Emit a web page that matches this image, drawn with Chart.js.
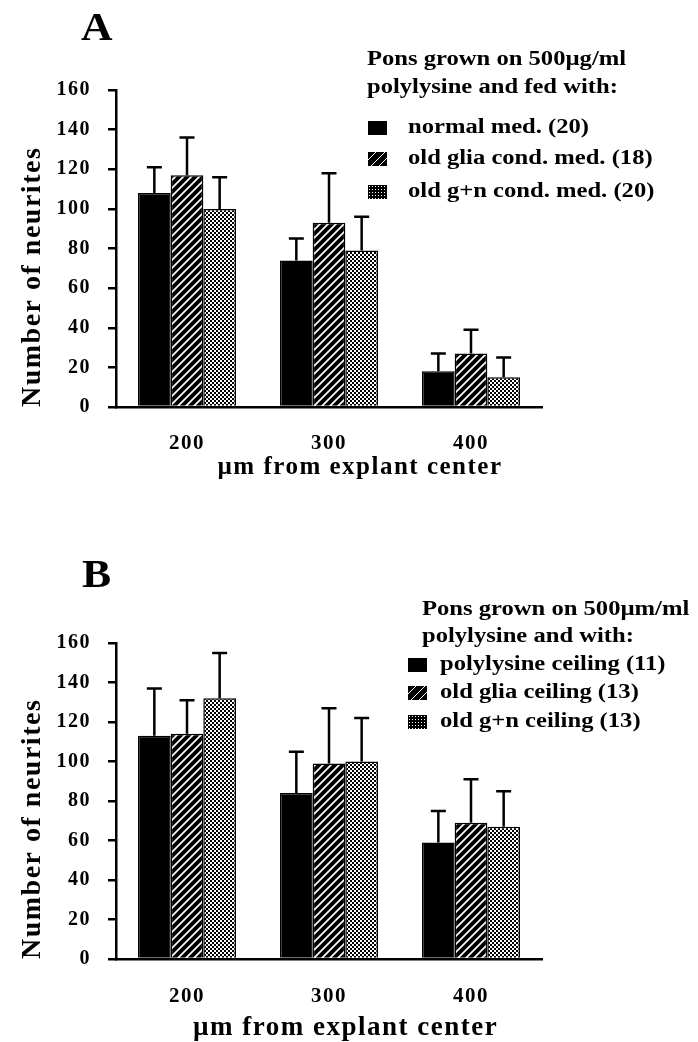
<!DOCTYPE html>
<html>
<head>
<meta charset="utf-8">
<script src="https://cdn.jsdelivr.net/npm/chart.js@4.4.1/dist/chart.umd.min.js"></script>
<style>
    body { margin: 0; background: #fff; }
    #page { position: relative; width: 698px; height: 1042px; overflow: hidden; font-family: 'Liberation Serif', 'Times New Roman', serif; font-weight: bold; color: #000; }
    .panel { position: absolute; left: 0; }
    .letter { position: absolute; font-size: 39px; line-height: 39px; transform: scaleX(1.12); transform-origin: left top; }
    .leg { position: absolute; font-size: 20px; line-height: 20px; white-space: nowrap; transform: scaleX(1.23); transform-origin: left top; }
    .box { position: absolute; width: 19px; height: 14px; }
    .solid { background: #000; }
    .hatch { background: repeating-linear-gradient(-45deg, #000 0 5px, #fff 5px 6px); }
    .dots { background-color: #000; background-image: radial-gradient(#fff 30%, transparent 45%); background-size: 3px 3px; }
</style>
</head>
<body>
<div id="page">
    <div class="panel" style="top:0"><canvas id="chartA" width="698" height="500"></canvas></div>
    <div class="panel" style="top:520px"><canvas id="chartB" width="698" height="522"></canvas></div>

    <div class="letter" style="left:81px; top:7px">A</div>
    <div class="leg" style="left:367px; top:48px">Pons grown on 500µg/ml</div>
    <div class="leg" style="left:367px; top:76px">polylysine and fed with:</div>
    <div class="box solid" style="left:368px; top:121px"></div>
    <div class="leg" style="left:408px; top:116px">normal med. (20)</div>
    <div class="box hatch" style="left:368px; top:152px"></div>
    <div class="leg" style="left:408px; top:147px">old glia cond. med. (18)</div>
    <div class="box dots" style="left:368px; top:185px"></div>
    <div class="leg" style="left:408px; top:180px">old g+n cond. med. (20)</div>

    <div class="letter" style="left:82px; top:554px">B</div>
    <div class="leg" style="left:422px; top:598px">Pons grown on 500µm/ml</div>
    <div class="leg" style="left:422px; top:625px">polylysine and with:</div>
    <div class="box solid" style="left:408px; top:658px"></div>
    <div class="leg" style="left:440px; top:653px">polylysine ceiling (11)</div>
    <div class="box hatch" style="left:408px; top:686px"></div>
    <div class="leg" style="left:440px; top:681px">old glia ceiling (13)</div>
    <div class="box dots" style="left:408px; top:715px"></div>
    <div class="leg" style="left:440px; top:710px">old g+n ceiling (13)</div>
</div>

<script>
const distances = ['200', '300', '400'];

// panel A: medium
const normalMed = [108, 74, 18];
const normalMedErr = [121, 85, 27];
const gliaMed = [117, 93, 27];
const gliaMedErr = [136, 118, 39];
const gnMed = [100, 79, 15];
const gnMedErr = [116, 96, 25];

// panel B: ceiling
const polyCeiling = [113, 84, 59];
const polyCeilingErr = [137, 105, 75];
const gliaCeiling = [114, 99, 69];
const gliaCeilingErr = [131, 127, 91];
const gnCeiling = [132, 100, 67];
const gnCeilingErr = [155, 122, 85];

const yTicks = [0, 20, 40, 60, 80, 100, 120, 140, 160];

Chart.defaults.font.family = "'Liberation Serif', 'Times New Roman', serif";
Chart.defaults.font.weight = 'bold';
Chart.defaults.color = '#000';

function hatchPattern() {
    let c = document.createElement('canvas');
    c.width = 8;
    c.height = 8;
    let g = c.getContext('2d');
    g.fillStyle = '#000';
    g.fillRect(0, 0, 8, 8);
    g.strokeStyle = '#fff';
    g.lineWidth = 1.7;
    g.beginPath();
    g.moveTo(0, 8); g.lineTo(8, 0);
    g.moveTo(-2, 2); g.lineTo(2, -2);
    g.moveTo(6, 10); g.lineTo(10, 6);
    g.stroke();
    return g.createPattern(c, 'repeat');
}

function dotPattern() {
    let c = document.createElement('canvas');
    c.width = 4;
    c.height = 4;
    let g = c.getContext('2d');
    g.fillStyle = '#000';
    g.fillRect(0, 0, 4, 4);
    g.fillStyle = '#fff';
    g.fillRect(0, 0, 2, 2);
    g.fillRect(2, 2, 2, 2);
    return g.createPattern(c, 'repeat');
}

// wider letters, like the old typeset figure
const spacing = {
    id: 'spacing',
    beforeUpdate(chart) { chart.ctx.letterSpacing = '1.5px'; },
    beforeDraw(chart) { chart.ctx.letterSpacing = '1.5px'; }
};

// one-sided error bars (upper only)
const errorBars = {
    id: 'errorBars',
    afterDatasetsDraw(chart) {
        let ctx = chart.ctx;
        let yScale = chart.scales.y;
        ctx.save();
        ctx.strokeStyle = '#000';
        ctx.lineWidth = 2.5;
        chart.data.datasets.forEach((ds, i) => {
            let meta = chart.getDatasetMeta(i);
            meta.data.forEach((bar, j) => {
                let top = yScale.getPixelForValue(ds.errHigh[j]);
                ctx.beginPath();
                ctx.moveTo(bar.x, bar.y);
                ctx.lineTo(bar.x, top);
                ctx.moveTo(bar.x - 7.5, top);
                ctx.lineTo(bar.x + 7.5, top);
                ctx.stroke();
            });
        });
        ctx.restore();
    }
};

function makeChart(id, series, padTop, xHeight, titlePad, tickPad, xTitle, xTitleSize) {
    let ctx = document.getElementById(id).getContext('2d');
    let fills = ['#000', hatchPattern(), dotPattern()];
    return new Chart(ctx, {
        type: 'bar',
        data: {
            labels: distances,
            datasets: series.map((s, i) => ({
                label: s[0],
                data: s[1],
                errHigh: s[2],
                backgroundColor: fills[i],
                borderColor: '#000',
                borderWidth: 1.5,
                categoryPercentage: 0.69,
                barPercentage: 1
            }))
        },
        options: {
            responsive: false,
            devicePixelRatio: 1,
            animation: false,
            layout: { padding: { top: padTop, right: 156, left: 0, bottom: 0 } },
            plugins: {
                legend: { display: false },
                tooltip: { enabled: false }
            },
            scales: {
                x: {
                    grid: { display: false, drawTicks: false },
                    border: { display: true, color: '#000', width: 2.5 },
                    ticks: { font: { size: 21 }, padding: tickPad },
                    title: {
                        display: true,
                        text: xTitle,
                        font: { size: xTitleSize, lineHeight: 1 },
                        padding: { top: 0, bottom: titlePad }
                    },
                    afterFit(scale) { scale.height = xHeight; }
                },
                y: {
                    min: 0,
                    max: 160,
                    afterBuildTicks(scale) { scale.ticks = yTicks.map(v => ({ value: v })); },
                    grid: { display: true, drawOnChartArea: false, drawTicks: true, tickLength: 8, lineWidth: 2.5, color: '#000' },
                    border: { display: true, color: '#000', width: 2.5 },
                    ticks: { font: { size: 20 }, padding: 17 },
                    title: {
                        display: true,
                        text: 'Number of neurites',
                        align: 'start',
                        font: { size: 28, lineHeight: 1 },
                        padding: { top: 19, bottom: 0 }
                    },
                    afterFit(scale) { scale.width = 116; }
                }
            }
        },
        plugins: [spacing, errorBars]
    });
}

// leading spaces push the axis title right, as in the figure
let chartA = makeChart('chartA', [
    ['normal med. (20)', normalMed, normalMedErr],
    ['old glia cond. med. (18)', gliaMed, gliaMedErr],
    ['old g+n cond. med. (20)', gnMed, gnMedErr]
], 90, 93, 20, 24, '        µm from explant center', 25);

let chartB = makeChart('chartB', [
    ['polylysine ceiling (11)', polyCeiling, polyCeilingErr],
    ['old glia ceiling (13)', gliaCeiling, gliaCeilingErr],
    ['old g+n ceiling (13)', gnCeiling, gnCeilingErr]
], 123, 83, 0, 25, '    µm from explant center', 27);
</script>
</body>
</html>
